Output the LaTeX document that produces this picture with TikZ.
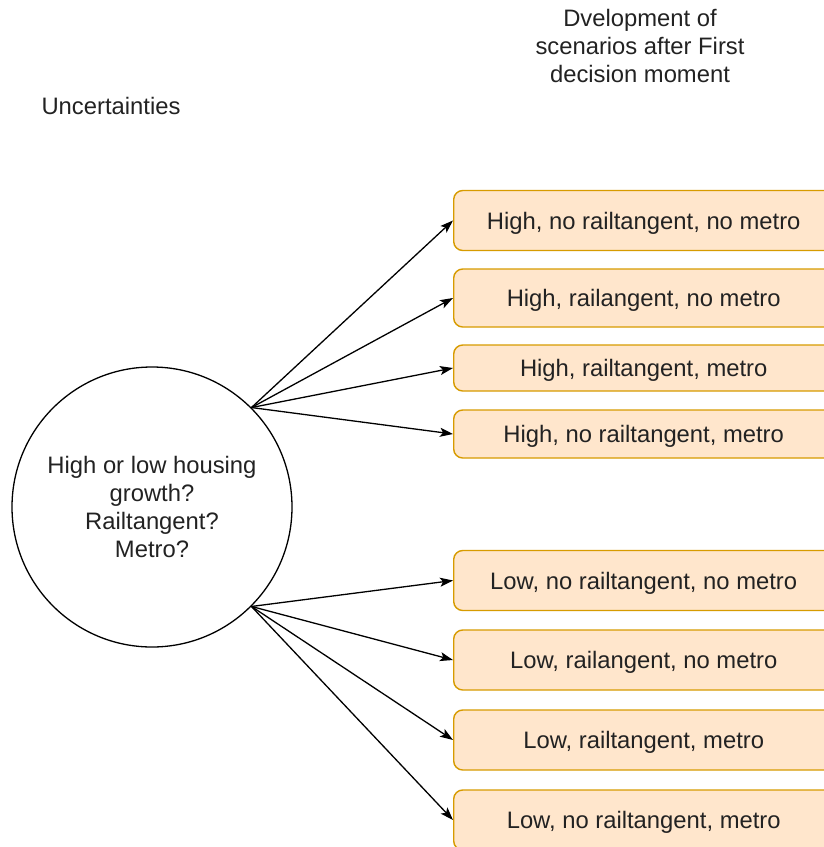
\documentclass[tikz,border=0pt]{standalone}
\usepackage{fontspec}
\setmainfont{Liberation Sans}
\usetikzlibrary{arrows.meta}
\definecolor{boxfill}{HTML}{FFE6CC}
\definecolor{boxline}{HTML}{D79B00}
\definecolor{ink}{HTML}{222222}
\tikzset{
  txt/.style={font=\fontsize{23.8pt}{28pt}\selectfont, text=ink, align=center, inner sep=0pt},
  scen/.style={txt, draw=boxline, fill=boxfill, line width=1.4pt, rounded corners=9pt,
    minimum width=380pt, anchor=west, text depth=0pt},
  arr/.style={-{Stealth[length=13pt,width=9pt,inset=3pt]}, line width=1.3pt, draw=black},
}
\begin{document}
\begin{tikzpicture}[x=1pt,y=-1pt]
\useasboundingbox (0,0) rectangle (824,847);
\clip (0,0) rectangle (824,847);

% headings
\node[txt] (title) at (640,46) {Dvelopment of\\scenarios after First\\decision moment};
\node[txt] (unc) at (111,106) {Uncertainties};

% uncertainty node
\node[txt, circle, draw=black, line width=1.3pt, minimum size=280pt] (q) at (152,507)
  {High or low housing\\growth?\\Railtangent?\\Metro?};

% scenario boxes
\node[scen, minimum height=60pt] (h1) at (453,220.5) {High, no railtangent, no metro};
\node[scen, minimum height=58pt] (h2) at (453,298) {High, railangent, no metro};
\node[scen, minimum height=46pt] (h3) at (453,368) {High, railtangent, metro};
\node[scen, minimum height=48pt] (h4) at (453,434) {High, no railtangent, metro};
\node[scen, minimum height=60pt] (l1) at (453,580.5) {Low, no railtangent, no metro};
\node[scen, minimum height=60pt] (l2) at (453,660) {Low, railangent, no metro};
\node[scen, minimum height=60pt] (l3) at (453,740) {Low, railtangent, metro};
\node[scen, minimum height=60pt] (l4) at (453,820) {Low, no railtangent, metro};

% branches
\foreach \b in {h1,h2,h3,h4} \draw[arr] (q.north east) -- (\b.west);
\foreach \b in {l1,l2,l3,l4} \draw[arr] (q.south east) -- (\b.west);
\end{tikzpicture}
\end{document}
